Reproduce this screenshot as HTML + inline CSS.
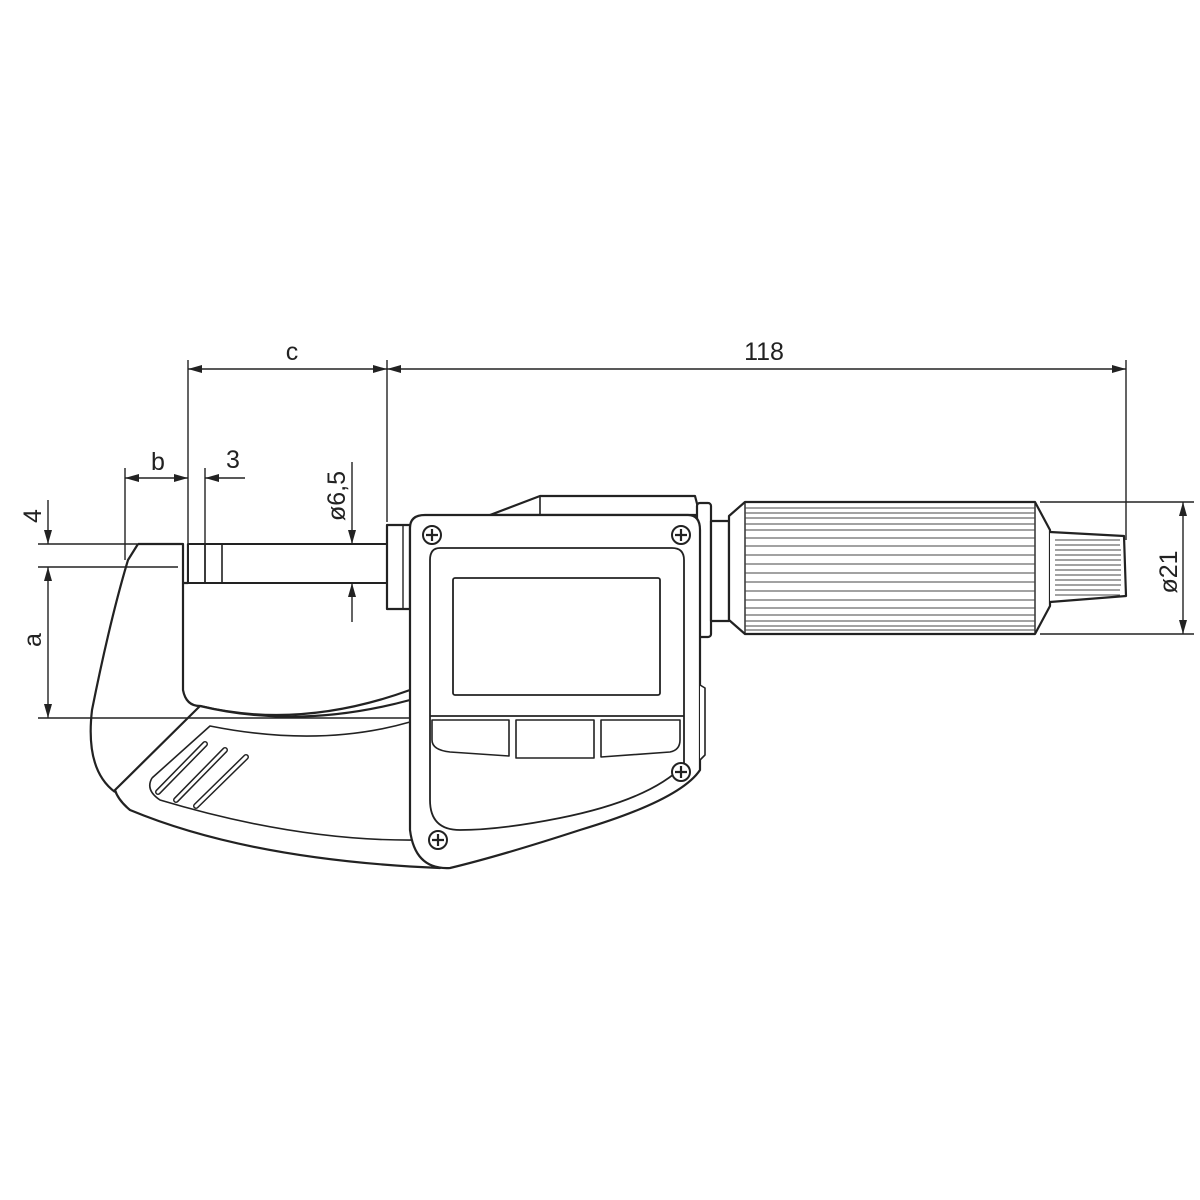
<!DOCTYPE html>
<html><head><meta charset="utf-8"><style>html,body{margin:0;padding:0;background:#fff}svg{display:block}text{font-family:"Liberation Sans",sans-serif;fill:#222}</style></head><body>
<svg width="1200" height="1200" viewBox="0 0 1200 1200" xmlns="http://www.w3.org/2000/svg">
<defs>
<marker id="a" markerWidth="14" markerHeight="8" refX="14" refY="4" orient="auto" markerUnits="userSpaceOnUse"><path d="M0,0 L14,4 L0,8z" fill="#222"/></marker>
</defs>
<g stroke="#222" stroke-width="2.2" fill="#fff" stroke-linejoin="round">
<!-- frame -->
<path d="M138,544 L183,544 L183,583 L188,583 L188,544 M138,544 L128,560 Q110,620 92,710 Q85,770 115,792" fill="none"/>
<path d="M183,583 L183,690 Q186,706 200,706 Q300,730 410,690" fill="none"/>
<path d="M200,706 L115,790 Q118,800 130,810 Q250,860 440,868 L440,820 Q420,760 410,700 Q300,730 200,706 Z"/>
<path d="M152,778 L210,726 Q320,748 410,722 M152,778 Q145,790 160,800 Q300,842 420,840" fill="none" stroke-width="1.6"/>
<g stroke-width="1.4"><path d="M158,792 L205,744 M176,800 L225,750 M196,806 L246,757" stroke-width="6" stroke-linecap="round"/><path d="M158,792 L205,744 M176,800 L225,750 M196,806 L246,757" stroke="#fff" stroke-width="3" stroke-linecap="round"/></g>
<!-- spindle -->
<rect x="188" y="544" width="199" height="39" stroke-width="2"/>
<line x1="205" y1="544" x2="205" y2="583" stroke-width="1.6"/>
<line x1="222" y1="544" x2="222" y2="583" stroke-width="1.6"/>
<rect x="387" y="525" width="23" height="84"/>
<line x1="403" y1="525" x2="403" y2="609" stroke-width="1.4"/>
<!-- housing top -->
<path d="M490,515 L540,496 L695,496 L700,515 Z"/>
<line x1="540" y1="496" x2="540" y2="515" stroke-width="1.6"/>
<!-- right thimble -->
<rect x="697" y="503" width="14" height="134" rx="3"/>
<rect x="711" y="521" width="18" height="100"/>
<path d="M729,516 L745,502 L1035,502 L1050,530 L1050,606 L1035,634 L745,634 L729,620 Z"/>
<line x1="745" y1="502" x2="745" y2="634" stroke-width="1.4"/>
<line x1="1035" y1="502" x2="1035" y2="634" stroke-width="1.4"/>
<path d="M1050,532 L1124,536 L1126,596 L1050,602"/>
<!-- display body -->
<path d="M410,528 Q410,515 425,515 L688,515 Q700,515 700,530 L700,770 Q680,800 580,830 Q500,856 450,868 Q415,870 410,830 Z"/>
<path d="M430,560 Q430,548 440,548 L672,548 Q684,548 684,560 L684,765 Q650,800 560,818 Q500,830 460,830 Q430,830 430,800 Z" stroke-width="1.8"/>
<path d="M430,716 L684,716" stroke-width="1.8"/>
<rect x="453" y="578" width="207" height="117" rx="2" stroke-width="1.8"/>
<path d="M432,720 L509,720 L509,756 L450,752 Q432,750 432,740 Z" stroke-width="1.6"/>
<rect x="516" y="720" width="78" height="38" stroke-width="1.6"/>
<path d="M601,720 L680,720 L680,740 Q680,750 670,752 L601,757 Z" stroke-width="1.6"/>
<path d="M700,685 L705,688 L705,755 L700,760" stroke-width="1.6"/>
</g>
<g stroke="#222" stroke-width="2" fill="#fff">
<circle cx="432" cy="535" r="9"/><circle cx="681" cy="535" r="9"/><circle cx="681" cy="772" r="9"/><circle cx="438" cy="840" r="9"/>
</g>
<g stroke="#222" stroke-width="2.2">
<path d="M426,535h12M432,529v12M675,535h12M681,529v12M675,772h12M681,766v12M432,840h12M438,834v12"/>
</g>
<g stroke="#444" stroke-width="1">
<path d="M745,508H1035M745,513H1035M745,518H1035M745,524H1035M745,530H1035M745,538H1035M745,546H1035M745,555H1035M745,564H1035M745,573H1035M745,582H1035M745,591H1035M745,600H1035M745,608H1035M745,615H1035M745,621H1035M745,626H1035M745,630H1035"/>
<path d="M1055,540H1120M1055,545H1120M1055,550H1121M1055,555H1121M1055,560H1121M1055,565H1121M1055,570H1121M1055,575H1121M1055,580H1121M1055,585H1121M1055,590H1120M1055,595H1120"/>
</g>
<g stroke="#222" stroke-width="1.4" fill="none">
<line x1="188" y1="360" x2="188" y2="578"/>
<line x1="387" y1="360" x2="387" y2="522"/>
<line x1="1126" y1="360" x2="1126" y2="540"/>
<line x1="290" y1="369" x2="188" y2="369" marker-end="url(#a)"/>
<line x1="290" y1="369" x2="387" y2="369" marker-end="url(#a)"/>
<line x1="760" y1="369" x2="387" y2="369" marker-end="url(#a)"/>
<line x1="760" y1="369" x2="1126" y2="369" marker-end="url(#a)"/>
<line x1="125" y1="468" x2="125" y2="560"/>
<line x1="205" y1="468" x2="205" y2="583"/>
<line x1="156" y1="478" x2="125" y2="478" marker-end="url(#a)"/>
<line x1="156" y1="478" x2="188" y2="478" marker-end="url(#a)"/>
<line x1="245" y1="478" x2="205" y2="478" marker-end="url(#a)"/>
<line x1="38" y1="544" x2="140" y2="544"/>
<line x1="38" y1="567" x2="178" y2="567"/>
<line x1="38" y1="718" x2="410" y2="718"/>
<line x1="48" y1="500" x2="48" y2="544" marker-end="url(#a)"/>
<line x1="48" y1="620" x2="48" y2="567" marker-end="url(#a)"/>
<line x1="48" y1="620" x2="48" y2="718" marker-end="url(#a)"/>
<line x1="352" y1="462" x2="352" y2="544" marker-end="url(#a)"/>
<line x1="352" y1="622" x2="352" y2="583" marker-end="url(#a)"/>
<line x1="1040" y1="502" x2="1194" y2="502"/>
<line x1="1040" y1="634" x2="1194" y2="634"/>
<line x1="1183" y1="568" x2="1183" y2="502" marker-end="url(#a)"/>
<line x1="1183" y1="568" x2="1183" y2="634" marker-end="url(#a)"/>
</g>
<g font-size="25">
<text x="292" y="360" text-anchor="middle">c</text>
<text x="764" y="360" text-anchor="middle">118</text>
<text x="158" y="470" text-anchor="middle">b</text>
<text x="233" y="468" text-anchor="middle">3</text>
<text transform="translate(41,516) rotate(-90)" text-anchor="middle">4</text>
<text transform="translate(41,640) rotate(-90)" text-anchor="middle">a</text>
<text transform="translate(345,496) rotate(-90)" text-anchor="middle">ø6,5</text>
<text transform="translate(1177,572) rotate(-90)" text-anchor="middle">ø21</text>
</g>
</svg>
</body></html>
